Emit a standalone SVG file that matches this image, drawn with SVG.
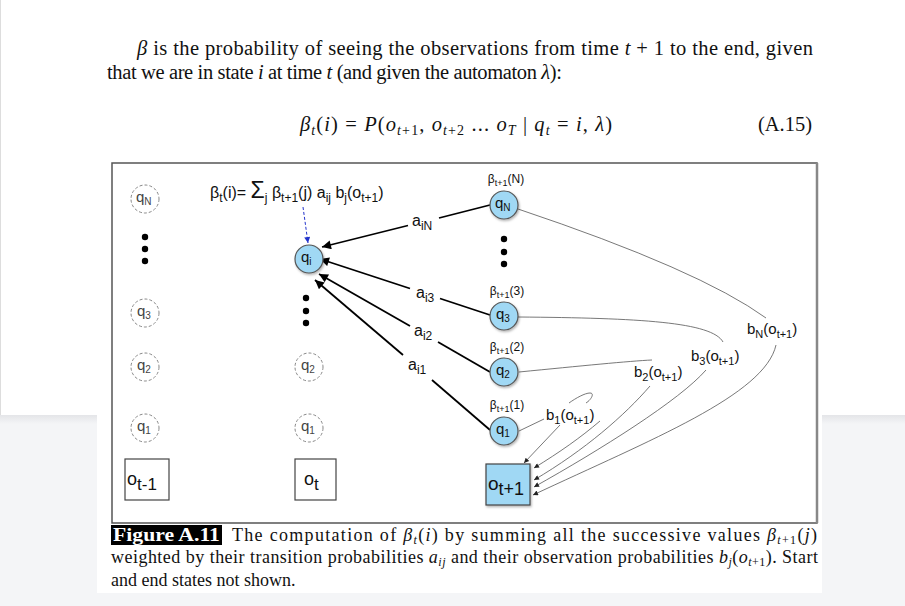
<svg xmlns="http://www.w3.org/2000/svg" width="905" height="606" viewBox="0 0 905 606">
<defs>
<linearGradient id="sh" x1="0" y1="0" x2="0" y2="1"><stop offset="0" stop-color="#e4e5e8"/><stop offset="1" stop-color="#f4f5f7"/></linearGradient>
<filter id="ds" x="-30%" y="-30%" width="160%" height="160%"><feDropShadow dx="1" dy="1.5" stdDeviation="1" flood-color="#000" flood-opacity="0.3"/></filter>
<marker id="ah" viewBox="0 0 10 10" refX="10" refY="5" markerWidth="11" markerHeight="9" markerUnits="userSpaceOnUse" orient="auto"><path d="M0,0 L10,5 L0,10 z" fill="#000"/></marker>
<marker id="as" viewBox="0 0 10 10" refX="10" refY="5" markerWidth="7" markerHeight="5" markerUnits="userSpaceOnUse" orient="auto"><path d="M0,0 L10,5 L0,10 z" fill="#222"/></marker>
<marker id="ab" viewBox="0 0 10 10" refX="10" refY="5" markerWidth="7" markerHeight="6" markerUnits="userSpaceOnUse" orient="auto"><path d="M0,0 L10,5 L0,10 z" fill="#2233cc"/></marker>
</defs>
<style>
.serif{font-family:"Liberation Serif","Times New Roman",serif;fill:#111}
.sans{font-family:"Liberation Sans",Arial,sans-serif;fill:#111}
.it{font-style:italic}
.dash{fill:#fff;stroke:#888;stroke-width:1;stroke-dasharray:3,2}
.blue{fill:#a0d8f4;stroke:#555;stroke-width:1.2}
.box{fill:#fff;stroke:#444;stroke-width:1.2}
.arr{stroke:#000;stroke-width:1.8;fill:none}
.thin{stroke:#555;stroke-width:0.8;fill:none}
.dot{fill:#000}
.ql{font-size:15px}
.qd{fill:#444}
</style>

<!-- page background -->
<rect x="0" y="0" width="905" height="606" fill="#f4f5f7"/>
<rect x="0" y="415" width="905" height="9" fill="url(#sh)"/>
<rect x="0" y="0" width="905" height="415" fill="#fff"/>
<line x1="0.5" y1="0" x2="0.5" y2="415" stroke="#ddd" stroke-width="1"/>
<rect x="97" y="415" width="725" height="178" fill="#fff"/>

<!-- top text -->
<text class="serif" x="137" y="55" font-size="20.5" textLength="676" lengthAdjust="spacing"><tspan class="it">β</tspan> is the probability of seeing the observations from time <tspan class="it">t</tspan> + 1 to the end, given</text>
<text class="serif" x="107" y="79" font-size="20.5" textLength="455" lengthAdjust="spacing">that we are in state <tspan class="it">i</tspan> at time <tspan class="it">t</tspan> (and given the automaton <tspan class="it">λ</tspan>):</text>
<text class="serif" x="300" y="131" font-size="20.5" textLength="312" lengthAdjust="spacing"><tspan class="it">β</tspan><tspan class="it" font-size="14" dy="4">t</tspan><tspan dy="-4">(</tspan><tspan class="it">i</tspan>) = <tspan class="it">P</tspan>(<tspan class="it">o</tspan><tspan font-size="14" dy="4"><tspan class="it">t</tspan>+1</tspan><tspan dy="-4">, </tspan><tspan class="it">o</tspan><tspan font-size="14" dy="4"><tspan class="it">t</tspan>+2</tspan><tspan dy="-4"> ... </tspan><tspan class="it">o</tspan><tspan class="it" font-size="14" dy="4">T</tspan><tspan dy="-4"> | </tspan><tspan class="it">q</tspan><tspan class="it" font-size="14" dy="4">t</tspan><tspan dy="-4"> = </tspan><tspan class="it">i</tspan>, <tspan class="it">λ</tspan>)</text>
<text class="serif" x="812" y="131" font-size="20.5" text-anchor="end">(A.15)</text>

<!-- figure frame -->
<rect x="112" y="163" width="705" height="360" fill="#fff" stroke="#555" stroke-width="1.5"/>
<line x1="817" y1="163" x2="817" y2="523" stroke="#888" stroke-width="2.5"/>

<!-- formula -->
<text class="sans" x="210" y="198" font-size="16">β<tspan font-size="12" dy="4">t</tspan><tspan dy="-4">(i)= </tspan><tspan font-size="23">Σ</tspan><tspan font-size="12" dy="4">j</tspan><tspan dy="-4"> β</tspan><tspan font-size="12" dy="4">t+1</tspan><tspan dy="-4">(j) a</tspan><tspan font-size="12" dy="4">ij</tspan><tspan dy="-4">  b</tspan><tspan font-size="12" dy="4">j</tspan><tspan dy="-4">(o</tspan><tspan font-size="12" dy="4">t+1</tspan><tspan dy="-4">)</tspan></text>

<!-- connectors -->
<g id="connectors">
<line x1="303" y1="207" x2="308" y2="243" stroke="#2233cc" stroke-width="1" stroke-dasharray="3,2" marker-end="url(#ab)"/>
<line class="arr" x1="490" y1="205" x2="439" y2="218"/>
<line class="arr" x1="408" y1="225.5" x2="322" y2="247" marker-end="url(#ah)"/>
<line class="arr" x1="490" y1="315" x2="440" y2="298.5"/>
<line class="arr" x1="410" y1="288.5" x2="320" y2="259" marker-end="url(#ah)"/>
<line class="arr" x1="490" y1="372" x2="438" y2="342"/>
<line class="arr" x1="410" y1="326" x2="319" y2="274" marker-end="url(#ah)"/>
<line class="arr" x1="490" y1="430" x2="432" y2="380"/>
<line class="arr" x1="403" y1="355" x2="315" y2="280" marker-end="url(#ah)"/>
<path class="thin" d="M518,209 Q700,270 766,318"/>
<path class="thin" d="M776,345 C765,395 650,440 533,495" marker-end="url(#as)"/>
<path class="thin" d="M518,317 C640,318 712,322 723,342"/>
<path class="thin" d="M706,370 C680,400 600,450 534,487" marker-end="url(#as)"/>
<path class="thin" d="M519,372 C580,366 630,361 652,360"/>
<path class="thin" d="M650,386 C625,415 585,450 534,480" marker-end="url(#as)"/>
<path class="thin" d="M519,431 L544,419"/>
<path class="thin" d="M560,425 L524,463" marker-end="url(#as)"/>
<path class="thin" d="M569,403 C576,398 585,393 590,393 C595,393 591,400 586,403"/>
<path class="thin" d="M600,421 C580,438 560,452 534,468" marker-end="url(#as)"/>
</g>

<!-- edge labels -->
<g class="sans">
<text x="412" y="226" font-size="16">a<tspan font-size="12" dy="4">iN</tspan></text>
<text x="416" y="298" font-size="16">a<tspan font-size="12" dy="4">i3</tspan></text>
<text x="414" y="336" font-size="16">a<tspan font-size="12" dy="4">i2</tspan></text>
<text x="408" y="370" font-size="16">a<tspan font-size="12" dy="4">i1</tspan></text>
<text x="747" y="334" font-size="15">b<tspan font-size="11" dy="4">N</tspan><tspan dy="-4">(o</tspan><tspan font-size="11" dy="4">t+1</tspan><tspan dy="-4">)</tspan></text>
<text x="691" y="361" font-size="15">b<tspan font-size="11" dy="4">3</tspan><tspan dy="-4">(o</tspan><tspan font-size="11" dy="4">t+1</tspan><tspan dy="-4">)</tspan></text>
<text x="634" y="377" font-size="15">b<tspan font-size="11" dy="4">2</tspan><tspan dy="-4">(o</tspan><tspan font-size="11" dy="4">t+1</tspan><tspan dy="-4">)</tspan></text>
<text x="546" y="420" font-size="15">b<tspan font-size="11" dy="4">1</tspan><tspan dy="-4">(o</tspan><tspan font-size="11" dy="4">t+1</tspan><tspan dy="-4">)</tspan></text>
</g>

<!-- left column (t-1) -->
<g id="qN_tm1"><circle class="dash" cx="145" cy="199" r="14"/><text class="sans qd ql" x="136" y="202">q<tspan font-size="10" dy="3">N</tspan></text></g>
<g id="dots_tm1"><circle class="dot" cx="145" cy="237" r="3.2"/><circle class="dot" cx="145" cy="249" r="3.2"/><circle class="dot" cx="145" cy="261" r="3.2"/></g>
<g id="q3_tm1"><circle class="dash" cx="145" cy="313" r="14"/><text class="sans qd ql" x="137" y="316">q<tspan font-size="10" dy="3">3</tspan></text></g>
<g id="q2_tm1"><circle class="dash" cx="145" cy="367" r="14"/><text class="sans qd ql" x="137" y="370">q<tspan font-size="10" dy="3">2</tspan></text></g>
<g id="q1_tm1"><circle class="dash" cx="145" cy="428" r="14"/><text class="sans qd ql" x="137" y="431">q<tspan font-size="10" dy="3">1</tspan></text></g>
<g id="o_tm1"><rect class="box" x="125" y="459" width="44" height="41"/><text class="sans" x="127" y="485" font-size="18">o<tspan font-size="17" dy="5">t-1</tspan></text></g>

<!-- middle column (t) -->
<g id="qi"><circle class="blue" cx="309" cy="259" r="14" filter="url(#ds)"/><text class="sans ql" x="301" y="262">q<tspan font-size="10" dy="3">i</tspan></text></g>
<g id="dots_t"><circle class="dot" cx="306" cy="298" r="3.2"/><circle class="dot" cx="306" cy="311" r="3.2"/><circle class="dot" cx="306" cy="323" r="3.2"/></g>
<g id="q2_t"><circle class="dash" cx="309" cy="367" r="14"/><text class="sans qd ql" x="301" y="370">q<tspan font-size="10" dy="3">2</tspan></text></g>
<g id="q1_t"><circle class="dash" cx="309" cy="428" r="14"/><text class="sans qd ql" x="301" y="431">q<tspan font-size="10" dy="3">1</tspan></text></g>
<g id="o_t"><rect class="box" x="295" y="459" width="41" height="41"/><text class="sans" x="304" y="485" font-size="18">o<tspan font-size="17" dy="5">t</tspan></text></g>

<!-- right column (t+1) -->
<g id="qN_tp1"><circle class="blue" cx="504" cy="205" r="14" filter="url(#ds)"/><text class="sans ql" x="495" y="208">q<tspan font-size="10" dy="3">N</tspan></text><text class="sans" x="506" y="183" font-size="12" text-anchor="middle">β<tspan font-size="9" dy="3">t+1</tspan><tspan dy="-3">(N)</tspan></text></g>
<g id="dots_tp1"><circle class="dot" cx="504" cy="239" r="3.2"/><circle class="dot" cx="504" cy="252" r="3.2"/><circle class="dot" cx="504" cy="264" r="3.2"/></g>
<g id="q3_tp1"><circle class="blue" cx="504" cy="316" r="14" filter="url(#ds)"/><text class="sans ql" x="496" y="319">q<tspan font-size="10" dy="3">3</tspan></text><text class="sans" x="507" y="295" font-size="12" text-anchor="middle">β<tspan font-size="9" dy="3">t+1</tspan><tspan dy="-3">(3)</tspan></text></g>
<g id="q2_tp1"><circle class="blue" cx="504" cy="372" r="14" filter="url(#ds)"/><text class="sans ql" x="496" y="375">q<tspan font-size="10" dy="3">2</tspan></text><text class="sans" x="507" y="351" font-size="12" text-anchor="middle">β<tspan font-size="9" dy="3">t+1</tspan><tspan dy="-3">(2)</tspan></text></g>
<g id="q1_tp1"><circle class="blue" cx="504" cy="431" r="14" filter="url(#ds)"/><text class="sans ql" x="496" y="434">q<tspan font-size="10" dy="3">1</tspan></text><text class="sans" x="507" y="409" font-size="12" text-anchor="middle">β<tspan font-size="9" dy="3">t+1</tspan><tspan dy="-3">(1)</tspan></text></g>
<g id="o_tp1"><rect x="486" y="464" width="44" height="41" fill="#a0d8f4" stroke="#444" stroke-width="1.2" filter="url(#ds)"/><text class="sans" x="488" y="490" font-size="19">o<tspan font-size="18" dy="5">t+1</tspan></text></g>

<!-- caption -->
<rect x="111" y="525" width="111" height="20" fill="#000"/>
<text class="serif" x="113" y="541" font-size="18" font-weight="bold" textLength="107" lengthAdjust="spacingAndGlyphs" style="fill:#fff">Figure A.11</text>
<text class="serif" x="232" y="541" font-size="18" textLength="585" lengthAdjust="spacing">The computation of <tspan class="it">β</tspan><tspan class="it" font-size="12" dy="3">t</tspan><tspan dy="-3">(</tspan><tspan class="it">i</tspan>) by summing all the successive values <tspan class="it">β</tspan><tspan font-size="12" dy="3"><tspan class="it">t</tspan>+1</tspan><tspan dy="-3">(</tspan><tspan class="it">j</tspan>)</text>
<text class="serif" x="111" y="563" font-size="18" textLength="707" lengthAdjust="spacing">weighted by their transition probabilities <tspan class="it">a</tspan><tspan class="it" font-size="12" dy="3">ij</tspan><tspan dy="-3"> and their observation probabilities </tspan><tspan class="it">b</tspan><tspan class="it" font-size="12" dy="3">j</tspan><tspan dy="-3">(</tspan><tspan class="it">o</tspan><tspan font-size="12" dy="3"><tspan class="it">t</tspan>+1</tspan><tspan dy="-3">). Start</tspan></text>
<text class="serif" x="111" y="586" font-size="18">and end states not shown.</text>
</svg>
